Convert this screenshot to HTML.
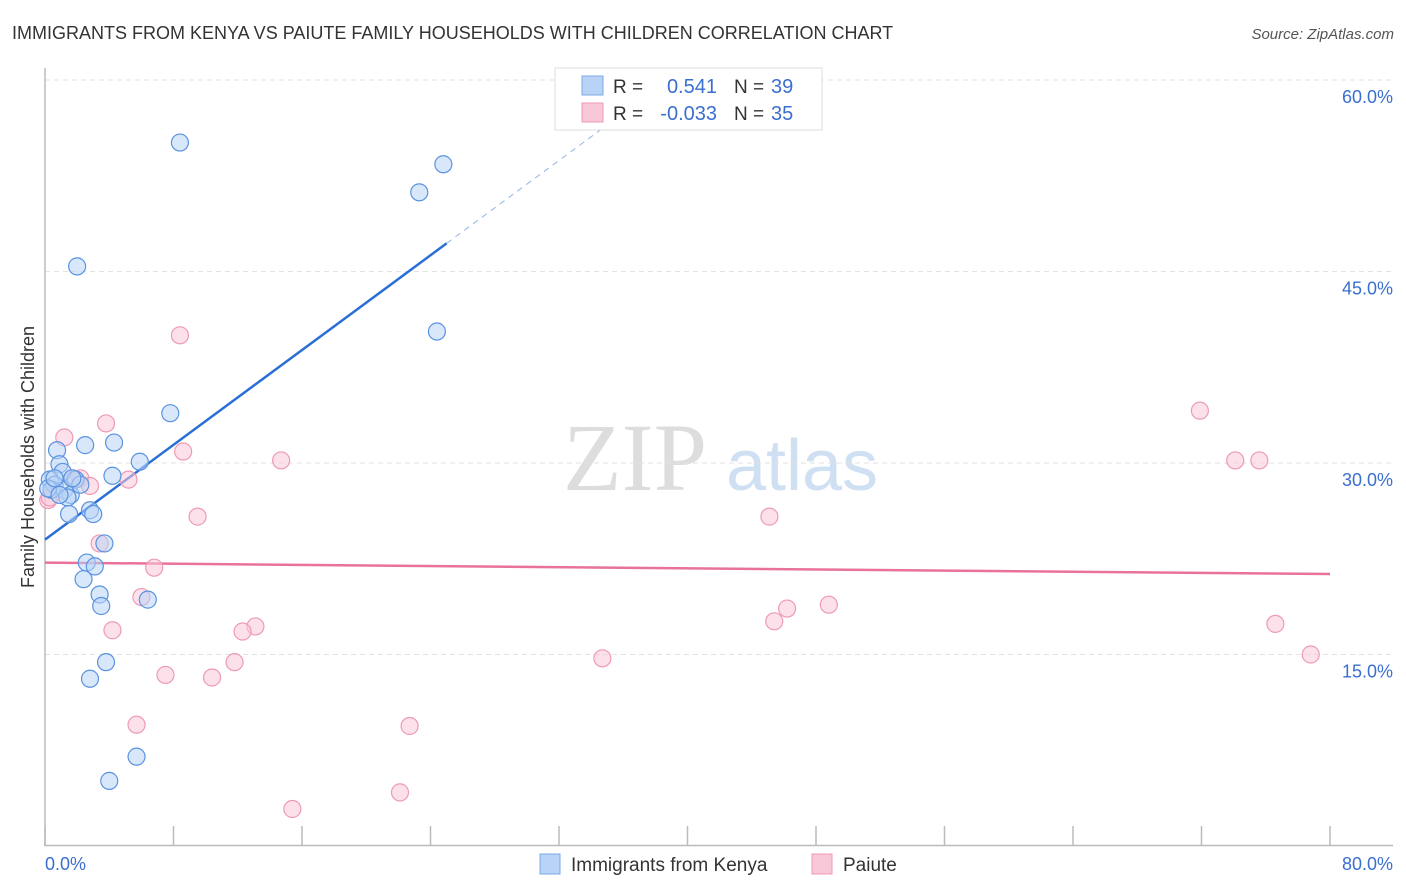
<!DOCTYPE html>
<html><head><meta charset="utf-8"><style>
body{margin:0;background:#fff;font-family:"Liberation Sans",sans-serif;}
svg{display:block}
</style></head><body>
<svg id="chart" width="1406" height="892" xmlns="http://www.w3.org/2000/svg">
<text x="12" y="39" font-size="18" fill="#333">IMMIGRANTS FROM KENYA VS PAIUTE FAMILY HOUSEHOLDS WITH CHILDREN CORRELATION CHART</text>
<text x="1394" y="39" font-size="15" fill="#555" font-style="italic" text-anchor="end">Source: ZipAtlas.com</text>
<g>
<text x="635" y="490" font-size="96" fill="#ddd" font-family="Liberation Serif,serif" text-anchor="middle">ZIP</text>
<text x="802" y="490" font-size="72" fill="#cfe0f3" text-anchor="middle">atlas</text>
</g>
<g id="grid"></g>
<g id="axes"></g>
<g id="lines"></g>
<g id="points"></g>
<text x="34" y="457" font-size="18" fill="#333" text-anchor="middle" transform="rotate(-90 34 457)">Family Households with Children</text>
<g>
<rect x="555" y="68" width="267" height="62" fill="#fff" fill-opacity="0.92" stroke="#ddd"/>
<rect x="582" y="76" width="21" height="19" fill="#b8d3f5" stroke="#7aaae6"/>
<rect x="582" y="103" width="21" height="19" fill="#f9c8d8" stroke="#ee9ab5"/>
<text x="613" y="93" font-size="19" fill="#333">R =</text>
<text x="717" y="93" font-size="20" fill="#3a6fd0" text-anchor="end">0.541</text>
<text x="734" y="93" font-size="19" fill="#333">N =</text>
<text x="771" y="93" font-size="20" fill="#3a6fd0">39</text>
<text x="613" y="120" font-size="19" fill="#333">R =</text>
<text x="717" y="120" font-size="20" fill="#3a6fd0" text-anchor="end">-0.033</text>
<text x="734" y="120" font-size="19" fill="#333">N =</text>
<text x="771" y="120" font-size="20" fill="#3a6fd0">35</text>
</g>
<g>
<rect x="540" y="854" width="20" height="20" fill="#b8d3f5" stroke="#7aaae6"/>
<text x="571" y="871" font-size="19" fill="#333">Immigrants from Kenya</text>
<rect x="812" y="854" width="20" height="20" fill="#f9c8d8" stroke="#ee9ab5"/>
<text x="843" y="871" font-size="19" fill="#333">Paiute</text>
</g>
</svg>
<script>
const blueX=[8.4,24.8,23.3,2.0,24.4,7.8,0.75,2.5,4.3,5.9,0.9,1.1,4.2,0.3,0.6,0.4,1.2,1.6,1.9,2.2,1.4,2.8,3.0,1.5,3.7,2.6,3.1,2.4,6.4,3.4,3.5,3.8,2.8,5.7,4.0,0.2,0.9,1.7,0.6];
const blueY=[55.1,53.4,51.2,45.4,40.3,33.9,31.0,31.4,31.6,30.1,29.9,29.3,29.0,28.7,28.3,27.9,27.9,27.5,28.7,28.3,27.3,26.3,26.0,26.0,23.7,22.2,21.9,20.9,19.3,19.7,18.8,14.4,13.1,7.0,5.1,28.0,27.5,28.8,28.8];
const pinkX=[8.4,3.8,1.2,8.6,5.2,2.2,2.8,1.7,0.2,9.5,3.4,6.8,6.0,4.2,13.1,12.3,7.5,10.4,11.8,5.7,14.7,22.7,22.1,15.4,34.7,45.1,45.4,46.2,48.8,71.9,74.1,75.6,76.6,78.8,0.3];
const pinkY=[40.0,33.1,32.0,30.9,28.7,28.8,28.2,28.8,27.1,25.8,23.7,21.8,19.5,16.9,17.2,16.8,13.4,13.2,14.4,9.5,30.2,9.4,4.2,2.9,14.7,25.8,17.6,18.6,18.9,34.1,30.2,30.2,17.4,15.0,27.3];
const blueTrend=[24.0,0.928];
const pinkTrend=[22.2,-0.0112];
const yTicks=[15,30,45,60];
const yTickLabels=["15.0%","30.0%","45.0%","60.0%"];
const xTicks=[0,8,16,24,32,40,48,56,64,72,80];
const NS="http://www.w3.org/2000/svg";
const X=v=>45+v*1285/80;
const Y=v=>846-v*766/60;
function mk(tag,attrs,parent){const e=document.createElementNS(NS,tag);for(const k in attrs)e.setAttribute(k,attrs[k]);parent.appendChild(e);return e;}
const grid=document.getElementById('grid'),axes=document.getElementById('axes'),lines=document.getElementById('lines'),pts=document.getElementById('points');
yTicks.forEach((t,i)=>{
 const l=mk('line',{x1:45,x2:1393,y1:Y(t),y2:Y(t),stroke:'#e2e2e2','stroke-dasharray':'5,4'},grid);
 
 
 const tx=mk('text',{x:1393,y:Y(t)+23,'font-size':18,fill:'#3a6fd0','text-anchor':'end'},axes);
 tx.textContent=yTickLabels[i];
 
 
});
const ya=mk('line',{x1:45,x2:45,y1:68,y2:846,stroke:'#bbb','stroke-width':1.5},axes);


const xa=mk('line',{x1:44,x2:1393,y1:845.5,y2:845.5,stroke:'#bbb','stroke-width':1.5},axes);


xTicks.forEach(t=>{
 const tk=mk('line',{x1:X(t),x2:X(t),y1:826,y2:846,stroke:'#bbb','stroke-width':1.5},axes);
 
 
});
const x0=mk('text',{x:45,y:870,'font-size':18,fill:'#3a6fd0'},axes);x0.textContent='0.0%';


const x1=mk('text',{x:1393,y:870,'font-size':18,fill:'#3a6fd0','text-anchor':'end'},axes);x1.textContent='80.0%';


const bt=v=>blueTrend[0]+blueTrend[1]*v;
const b1=mk('line',{x1:X(0),y1:Y(bt(0)),x2:X(25),y2:Y(bt(25)),stroke:'#2a6fd6','stroke-width':2.5},lines);


const b2=mk('line',{x1:X(25),y1:Y(bt(25)),x2:X(36.5),y2:Y(bt(36.5)),stroke:'#8fb4e8','stroke-width':1,'stroke-dasharray':'6,5'},lines);


const pt=v=>pinkTrend[0]+pinkTrend[1]*v;
const p1=mk('line',{x1:X(0),y1:Y(pt(0)),x2:X(80),y2:Y(pt(80)),stroke:'#e8729a','stroke-width':2.5},lines);


pinkX.forEach((v,i)=>{
 const c=mk('circle',{cx:X(v),cy:Y(pinkY[i]),r:8.5,fill:'#f9c8d8','fill-opacity':0.55,stroke:'#ee9ab5','stroke-width':1.2},pts);
 
 
});
blueX.forEach((v,i)=>{
 const c=mk('circle',{cx:X(v),cy:Y(blueY[i]),r:8.5,fill:'#b8d3f5','fill-opacity':0.55,stroke:'#5a93e0','stroke-width':1.2},pts);
 
 
});
</script>
</body></html>
